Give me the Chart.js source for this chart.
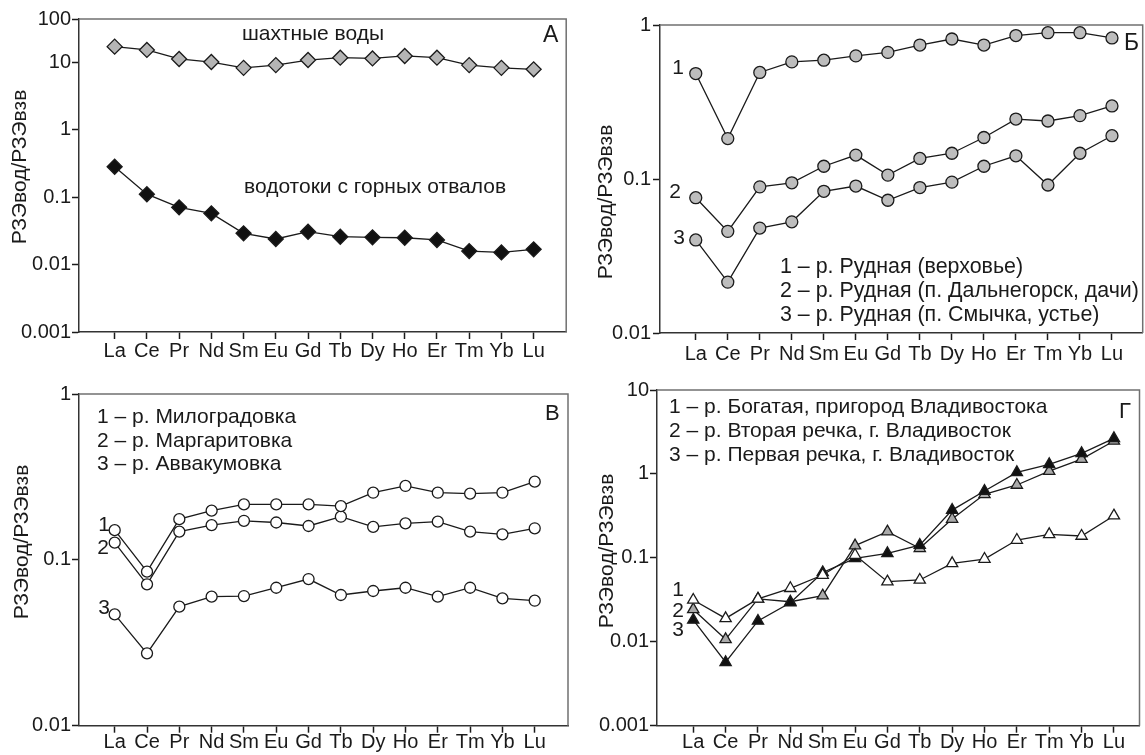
<!DOCTYPE html>
<html>
<head>
<meta charset="utf-8">
<script src="https://cdn.jsdelivr.net/npm/chart.js@4"></script>
<style>
  html, body { margin: 0; padding: 0; background: #fff; overflow: hidden; }
  body { width: 1145px; height: 755px; position: relative; }
  canvas { position: absolute; }
</style>
</head>
<body>
<canvas id="panelA" width="575" height="375" style="left:0;top:0"></canvas>
<canvas id="panelB" width="575" height="375" style="left:575px;top:0"></canvas>
<canvas id="panelV" width="575" height="380" style="left:0;top:375px"></canvas>
<canvas id="panelG" width="575" height="380" style="left:575px;top:375px"></canvas>
<script>
const elements = ['La', 'Ce', 'Pr', 'Nd', 'Sm', 'Eu', 'Gd', 'Tb', 'Dy', 'Ho', 'Er', 'Tm', 'Yb', 'Lu'];

// А
const mineWater = [16.9, 15.1, 11.1, 10.0, 8.2, 9.0, 10.7, 11.6, 11.3, 12.3, 11.6, 9.0, 8.2, 7.8];
const dumpStreams = [0.281, 0.11, 0.0703, 0.0573, 0.029, 0.0239, 0.0306, 0.0258, 0.0253, 0.0249, 0.0231, 0.0158, 0.0151, 0.0168];

// Б
const rudnayaUpper = [0.484, 0.183, 0.492, 0.576, 0.591, 0.63, 0.664, 0.741, 0.811, 0.741, 0.854, 0.891, 0.891, 0.824];
const rudnayaDachi = [0.0756, 0.0457, 0.0889, 0.0945, 0.121, 0.143, 0.106, 0.136, 0.147, 0.186, 0.245, 0.238, 0.258, 0.298];
const rudnayaMouth = [0.0402, 0.0214, 0.048, 0.0527, 0.0832, 0.090, 0.0728, 0.088, 0.0954, 0.121, 0.1415, 0.0914, 0.147, 0.191];

// В
const milogradovka = [0.151, 0.0849, 0.176, 0.198, 0.216, 0.216, 0.216, 0.211, 0.254, 0.279, 0.254, 0.251, 0.254, 0.296];
const margaritovka = [0.127, 0.0712, 0.148, 0.162, 0.172, 0.168, 0.160, 0.182, 0.158, 0.166, 0.170, 0.148, 0.1425, 0.155];
const avvakumovka = [0.0469, 0.0273, 0.0522, 0.060, 0.0605, 0.0679, 0.0766, 0.0614, 0.0649, 0.0679, 0.060, 0.0679, 0.0586, 0.0567];

// Г
const bogataya = [0.0315, 0.019, 0.0324, 0.0434, 0.0624, 0.108, 0.052, 0.0545, 0.0859, 0.0968, 0.163, 0.1906, 0.182, 0.318];
const vtorayaRechka = [0.0243, 0.0107, 0.0324, 0.030, 0.0354, 0.14, 0.205, 0.13, 0.29, 0.571, 0.738, 1.08, 1.5, 2.47];
const pervayaRechka = [0.0182, 0.0057, 0.0177, 0.0292, 0.067, 0.0987, 0.113, 0.142, 0.371, 0.626, 1.045, 1.30, 1.76, 2.65];

// y ticks; in the source figure panel А has a squeezed top decade, its top tick sits at ~43 but reads "100"
const yTicksA = [0.001, 0.01, 0.1, 1, 10, 43.4];
const yTickLabelsA = ['0.001', '0.01', '0.1', '1', '10', '100'];
const yTicksB = [0.01, 0.1, 1];
const yTickLabelsB = ['0.01', '0.1', '1'];
const yTicksV = [0.01, 0.1, 1];
const yTickLabelsV = ['0.01', '0.1', '1'];
const yTicksG = [0.001, 0.01, 0.1, 1, 10];
const yTickLabelsG = ['0.001', '0.01', '0.1', '1', '10'];

const yTitle = 'РЗЭвод/РЗЭвзв';
const FONT = "'Liberation Sans', Arial, sans-serif";
const INK = '#1a1a1a';

function points(values) {
    return values.map((v, i) => ({ x: i, y: v }));
}

function series(values, style, radius, fill) {
    return {
        data: points(values),
        borderColor: INK,
        borderWidth: 1.3,
        pointStyle: style,
        pointRadius: radius,
        pointBackgroundColor: fill,
        pointBorderColor: INK,
        pointBorderWidth: 1.3,
        tension: 0,
        fill: false,
        clip: false
    };
}

// frame on top/right, free text, rotated y title
const panelPlugin = {
    id: 'panelDecor',
    beforeDatasetsDraw(chart, args, opts) {
        const a = chart.chartArea;
        const ctx = chart.ctx;
        ctx.save();
        ctx.strokeStyle = '#707070';
        ctx.lineWidth = 1.5;
        ctx.beginPath();
        ctx.moveTo(a.left, a.top);
        ctx.lineTo(a.right, a.top);
        ctx.lineTo(a.right, a.bottom);
        ctx.stroke();
        ctx.restore();
    },
    afterDraw(chart, args, opts) {
        const ctx = chart.ctx;
        ctx.save();
        ctx.fillStyle = INK;
        (opts.texts || []).forEach(t => {
            ctx.font = (t.size || 21) + 'px ' + FONT;
            ctx.textAlign = t.align || 'left';
            ctx.textBaseline = 'alphabetic';
            ctx.fillText(t.text, t.x, t.y);
        });
        if (opts.title) {
            ctx.translate(opts.title.x, opts.title.y);
            ctx.rotate(-Math.PI / 2);
            ctx.font = '21px ' + FONT;
            ctx.textAlign = 'center';
            ctx.textBaseline = 'middle';
            ctx.fillText(yTitle, 0, 0);
        }
        ctx.restore();
    }
};

function makePanel(id, cfg) {
    const ctx = document.getElementById(id).getContext('2d');
    new Chart(ctx, {
        type: 'line',
        data: { datasets: cfg.datasets },
        plugins: [panelPlugin],
        options: {
            responsive: false,
            animation: false,
            layout: { padding: cfg.padding },
            plugins: {
                legend: { display: false },
                tooltip: { enabled: false },
                panelDecor: { texts: cfg.texts, title: cfg.title }
            },
            scales: {
                x: {
                    type: 'linear',
                    min: cfg.xMin,
                    max: cfg.xMax,
                    afterBuildTicks: s => { s.ticks = elements.map((e, i) => ({ value: i })); },
                    afterFit: s => {
                        s.height = cfg.xHeight;
                        s.paddingLeft = 0;
                        s.paddingRight = 0;
                    },
                    ticks: {
                        callback: v => elements[v],
                        autoSkip: false,
                        maxRotation: 0,
                        color: INK,
                        padding: cfg.xPad,
                        font: { family: FONT, size: 20, lineHeight: 1 }
                    },
                    grid: { drawOnChartArea: false, tickLength: 7, tickColor: INK, tickWidth: 1.5 },
                    border: { color: '#333', width: 1.5 }
                },
                y: {
                    type: 'logarithmic',
                    min: cfg.yTicks[0],
                    max: cfg.yTicks[cfg.yTicks.length - 1],
                    afterBuildTicks: s => { s.ticks = cfg.yTicks.map(v => ({ value: v })); },
                    afterFit: s => {
                        s.width = cfg.yWidth;
                        s.paddingTop = 0;
                        s.paddingBottom = 0;
                    },
                    ticks: {
                        callback: (v, i) => cfg.yLabels[i],
                        autoSkip: false,
                        color: INK,
                        padding: cfg.yPad,
                        font: { family: FONT, size: 20 }
                    },
                    grid: { drawOnChartArea: false, tickLength: 7, tickColor: INK, tickWidth: 1.5 },
                    border: { color: '#333', width: 1.5 }
                }
            }
        }
    });
}

makePanel('panelA', {
    datasets: [
        series(mineWater, 'rectRot', 7.5, '#b5b5b5'),
        series(dumpStreams, 'rectRot', 7.5, '#111')
    ],
    xMin: -1.106, xMax: 14.01, xHeight: 43, xPad: 2,
    yTicks: yTicksA, yLabels: yTickLabelsA, yWidth: 79, yPad: 1,
    padding: { top: 19, right: 4, left: 0, bottom: 0 },
    title: { x: 20, y: 167 },
    texts: [
        { text: 'шахтные воды', x: 242, y: 40 },
        { text: 'водотоки с горных отвалов', x: 244, y: 193 },
        { text: 'А', x: 543, y: 42, size: 23 }
    ]
});

makePanel('panelB', {
    datasets: [
        series(rudnayaUpper, 'circle', 6, '#bdbdbd'),
        series(rudnayaDachi, 'circle', 6, '#bdbdbd'),
        series(rudnayaMouth, 'circle', 6, '#bdbdbd')
    ],
    xMin: -1.117, xMax: 13.96, xHeight: 42, xPad: 4,
    yTicks: yTicksB, yLabels: yTickLabelsB, yWidth: 85, yPad: 2,
    padding: { top: 25, right: 4, left: 0, bottom: 0 },
    title: { x: 31, y: 202 },
    texts: [
        { text: '1', x: 109, y: 74, align: 'right' },
        { text: '2', x: 106, y: 198, align: 'right' },
        { text: '3', x: 110, y: 244, align: 'right' },
        { text: '1 – р. Рудная (верховье)', x: 205, y: 273, size: 21.4 },
        { text: '2 – р. Рудная (п. Дальнегорск, дачи)', x: 205, y: 297, size: 21.4 },
        { text: '3 – р. Рудная (п. Смычка, устье)', x: 205, y: 321, size: 21.4 },
        { text: 'Б', x: 549, y: 50, size: 23 }
    ]
});

makePanel('panelV', {
    datasets: [
        series(milogradovka, 'circle', 5.5, '#fff'),
        series(margaritovka, 'circle', 5.5, '#fff'),
        series(avvakumovka, 'circle', 5.5, '#fff')
    ],
    xMin: -1.105, xMax: 14.03, xHeight: 29.3, xPad: 0,
    yTicks: yTicksV, yLabels: yTickLabelsV, yWidth: 79, yPad: 1,
    padding: { top: 19, right: 7, left: 0, bottom: 0 },
    title: { x: 22, y: 167 },
    texts: [
        { text: '1', x: 110, y: 156, align: 'right' },
        { text: '2', x: 109, y: 179, align: 'right' },
        { text: '3', x: 110, y: 239, align: 'right' },
        { text: '1 – р. Милоградовка', x: 97, y: 48 },
        { text: '2 – р. Маргаритовка', x: 97, y: 72 },
        { text: '3 – р. Аввакумовка', x: 97, y: 95 },
        { text: 'В', x: 545, y: 45, size: 22 }
    ]
});

makePanel('panelG', {
    datasets: [
        series(bogataya, 'triangle', 6.5, '#fff'),
        series(pervayaRechka, 'triangle', 6.5, '#111'),
        series(vtorayaRechka, 'triangle', 6.5, '#aaa')
    ],
    xMin: -1.12, xMax: 13.79, xHeight: 29.3, xPad: 0,
    yTicks: yTicksG, yLabels: yTickLabelsG, yWidth: 82, yPad: 1,
    padding: { top: 15, right: 10.5, left: 0, bottom: 0 },
    title: { x: 32, y: 176 },
    texts: [
        { text: '1', x: 109, y: 221, align: 'right' },
        { text: '2', x: 109, y: 242, align: 'right' },
        { text: '3', x: 109, y: 261, align: 'right' },
        { text: '1 – р. Богатая, пригород Владивостока', x: 94, y: 38 },
        { text: '2 – р. Вторая речка, г. Владивосток', x: 94, y: 62 },
        { text: '3 – р. Первая речка, г. Владивосток', x: 94, y: 86 },
        { text: 'Г', x: 544, y: 43, size: 22 }
    ]
});
</script>
</body>
</html>
